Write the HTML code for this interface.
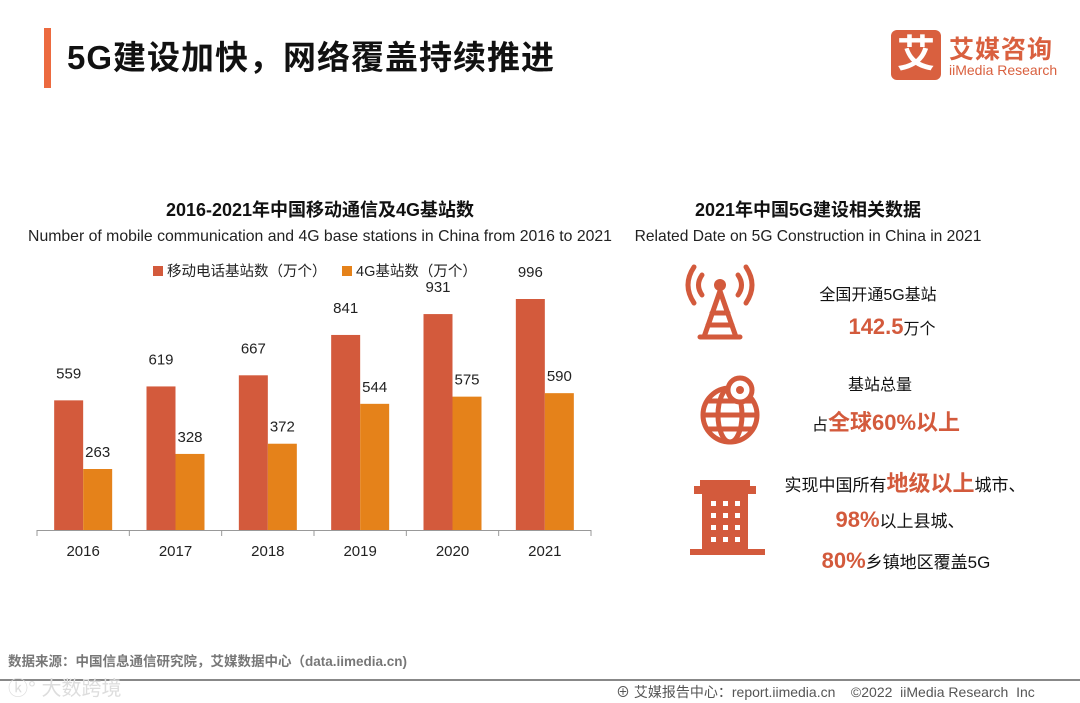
<!DOCTYPE html>
<html><head><meta charset="utf-8"><style>
body{margin:0;width:1080px;height:703px;background:#fff;font-family:"Liberation Sans","Noto Sans CJK SC",sans-serif;position:relative;overflow:hidden}
.a{position:absolute;white-space:nowrap}
.c{transform:translateX(-50%)}
.o{color:#d35a3c;font-weight:bold;font-size:22px}
</style></head><body>
<div class="a" style="left:44px;top:28px;width:7px;height:60px;background:#ec6a3f"></div>
<div class="a" style="left:67px;top:31px;font-size:33px;font-weight:bold;color:#111;letter-spacing:1px">5G建设加快，网络覆盖持续推进</div>
<div class="a" style="left:891px;top:30px;width:50px;height:50px;background:#d9603f;border-radius:6px;color:#fff;font-size:38px;font-weight:bold;text-align:center;line-height:50px">艾</div>
<div class="a" style="left:949px;top:30px;font-size:25px;font-weight:bold;color:#d9603f;letter-spacing:1px">艾媒咨询</div>
<div class="a" style="left:949px;top:62px;font-size:14px;color:#d9603f">iiMedia Research</div>

<div class="a c" style="left:320px;top:196px;font-size:18px;font-weight:bold;color:#111">2016-2021年中国移动通信及4G基站数</div>
<div class="a c" style="left:320px;top:228px;font-size:15.8px;color:#222">Number of mobile communication and 4G base stations in China from 2016 to 2021</div>

<svg class="a" style="left:0;top:0" width="640" height="600" id="chart"></svg>

<div class="a c" style="left:808px;top:196px;font-size:18px;font-weight:bold;color:#111">2021年中国5G建设相关数据</div>
<div class="a c" style="left:808px;top:228px;font-size:15.6px;color:#222">Related Date on 5G Construction in China in 2021</div>

<svg class="a" style="left:680px;top:255px" width="100" height="310">
<g fill="none" stroke="#d35a3c" stroke-width="5" stroke-linecap="round">
<path d="M22 20 Q15 30 22 40"/><path d="M14 12 Q2 30 14 48"/><path d="M58 20 Q65 30 58 40"/><path d="M66 12 Q78 30 66 48"/>
<circle cx="40" cy="30" r="6" fill="#d35a3c" stroke="none"/>
<path d="M40 36 L24 82 M40 36 L56 82 M32 58 H48 M28 70 H52 M20 82 H60"/></g>
<g fill="none" stroke="#d35a3c" stroke-width="5">
<circle cx="50" cy="160" r="27"/><ellipse cx="50" cy="160" rx="12" ry="27"/><path d="M23 160 H77 M28 146 H72 M28 174 H72"/>
<circle cx="60" cy="135" r="12" fill="#fff"/><circle cx="60" cy="135" r="4" fill="#d35a3c" stroke="none"/></g>
<g fill="#d35a3c">
<rect x="20" y="225" width="50" height="6"/><rect x="14" y="231" width="62" height="8"/><rect x="22" y="239" width="46" height="55"/><rect x="10" y="294" width="75" height="6"/>
</g>
<g fill="#fff"><rect x="31" y="246" width="5" height="5"/><rect x="43" y="246" width="5" height="5"/><rect x="55" y="246" width="5" height="5"/><rect x="31" y="258" width="5" height="5"/><rect x="43" y="258" width="5" height="5"/><rect x="55" y="258" width="5" height="5"/><rect x="31" y="270" width="5" height="5"/><rect x="43" y="270" width="5" height="5"/><rect x="55" y="270" width="5" height="5"/><rect x="31" y="282" width="5" height="5"/><rect x="43" y="282" width="5" height="5"/><rect x="55" y="282" width="5" height="5"/></g>
</svg>

<div class="a c" style="left:878px;top:281px;font-size:16px;color:#111">全国开通5G基站</div>
<div class="a c" style="left:892px;top:314px;font-size:16px;color:#111"><span class="o">142.5</span>万个</div>
<div class="a c" style="left:880px;top:371px;font-size:16px;color:#111">基站总量</div>
<div class="a c" style="left:886px;top:405px;font-size:16px;color:#111">占<span class="o">全球60%以上</span></div>
<div class="a c" style="left:905px;top:466px;font-size:17px;color:#111">实现中国所有<span class="o">地级以上</span>城市、</div>
<div class="a c" style="left:900px;top:507px;font-size:17px;color:#111"><span class="o">98%</span>以上县城、</div>
<div class="a c" style="left:906px;top:548px;font-size:17px;color:#111"><span class="o">80%</span>乡镇地区覆盖5G</div>

<div class="a" style="left:8px;top:650px;font-size:13.5px;font-weight:bold;color:#777">数据来源：中国信息通信研究院，艾媒数据中心（data.iimedia.cn)</div>
<div class="a" style="left:0;top:679px;width:1080px;height:2px;background:#888"></div>
<div class="a" style="left:8px;top:672px;font-size:20px;color:#ddd">ⓚ° 大数跨境</div>
<div class="a" style="left:616px;top:682px;font-size:14px;color:#555">⊕ 艾媒报告中心：report.iimedia.cn &nbsp;&nbsp; ©2022 &nbsp;iiMedia Research &nbsp;Inc</div>

<script>
const years=["2016","2017","2018","2019","2020","2021"];
const mobileStations=[559,619,667,841,931,996];
const lteStations=[263,328,372,544,575,590];
const seriesNames=["移动电话基站数（万个）","4G基站数（万个）"];
const svg=document.getElementById('chart');const NS='http://www.w3.org/2000/svg';
const x0=37,x1=591,base=530,scale=231/996,bw=29;
const step=(x1-x0)/years.length;
const xc=i=>x0+step*(i+0.5);
const yv=v=>base-v*scale;
function mk(t,a){const e=document.createElementNS(NS,t);for(const k in a)e.setAttribute(k,a[k]);svg.appendChild(e);return e;}
const ax=mk('line',{x1:x0,x2:x1,y1:base+0.5,y2:base+0.5,stroke:'#999'});


for(let i=0;i<=years.length;i++){const t=mk('line',{x1:x0+step*i,x2:x0+step*i,y1:base,y2:base+6,stroke:'#999'});

}
years.forEach((y,i)=>{
 const c=xc(i);
 const r=mk('rect',{x:c-bw,y:yv(mobileStations[i]),width:bw,height:mobileStations[i]*scale,fill:'#d35a3c'});
 
 
 const o=mk('rect',{x:c,y:yv(lteStations[i]),width:bw,height:lteStations[i]*scale,fill:'#e5821a'});
 
 
 const l1=mk('text',{x:c-bw/2,y:yv(mobileStations[i])-22,'text-anchor':'middle','font-size':15,fill:'#222'});l1.textContent=mobileStations[i];
 
 
 const l2=mk('text',{x:c+bw/2,y:yv(lteStations[i])-12,'text-anchor':'middle','font-size':15,fill:'#222'});l2.textContent=lteStations[i];
 
 
 const yl=mk('text',{x:c,y:base+26,'text-anchor':'middle','font-size':15,fill:'#222'});yl.textContent=y;
 
 
});
const lx=[153,342],cols=['#d35a3c','#e5821a'];
seriesNames.forEach((n,i)=>{
 const s=mk('rect',{x:lx[i],y:266,width:10,height:10,fill:cols[i]});
 
 
 const t=mk('text',{x:lx[i]+14,y:276,'font-size':14.5,fill:'#222'});t.textContent=n;
 
 
});
</script>
</body></html>
